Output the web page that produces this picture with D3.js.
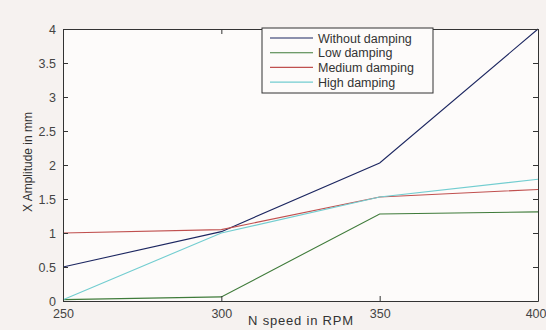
<!DOCTYPE html>
<html>
<meta charset="utf-8">
<head>
<style>
  body { margin: 0; background: #f6f2f0; }
  svg text { font-family: "Liberation Sans", Arial, sans-serif; fill: #333; }
</style>
</head>
<body>
<script src="https://d3js.org/d3.v7.min.js"></script>
<script>
var speeds = [250, 300, 350, 400];
var withoutDamping = [0.5, 1.02, 2.03, 4.0];
var lowDamping = [0.02, 0.06, 1.28, 1.31];
var mediumDamping = [1.0, 1.05, 1.53, 1.64];
var highDamping = [0.02, 1.0, 1.53, 1.79];
var seriesNames = ["Without damping", "Low damping", "Medium damping", "High damping"];
var xTicks = [250, 300, 350, 400];
var yTicks = [0, 0.5, 1, 1.5, 2, 2.5, 3, 3.5, 4];

var width = 546, height = 330;
var plotL = 63, plotR = 538, plotT = 29, plotB = 301;
var colors = ["#1c2660", "#3f7b3a", "#c0504f", "#72cdd0"];
var allSeries = [withoutDamping, lowDamping, mediumDamping, highDamping];

var svg = d3.select("body").append("svg")
  .attr("width", width).attr("height", height);

var x = d3.scaleLinear().domain([250, 400]).range([plotL, plotR]);
var y = d3.scaleLinear().domain([0, 4]).range([plotB, plotT]);

// plot area
svg.append("rect")
  .attr("x", plotL).attr("y", plotT)
  .attr("width", plotR - plotL).attr("height", plotB - plotT)
  .attr("fill", "#fdfbfa");

// lines
var line = d3.line()
  .x(function (d, i) { return x(speeds[i]); })
  .y(function (d) { return y(d); });

allSeries.forEach(function (s, k) {
  svg.append("path")
    .datum(s)
    .attr("fill", "none")
    .attr("stroke", colors[k])
    .attr("stroke-width", 1.1)
    .attr("d", line);
});

// axes, matlab style: ticks inside on all sides
function styleAxis(g) {
  g.select(".domain").attr("stroke", "#333");
  g.selectAll(".tick line").attr("stroke", "#333");
  g.selectAll("text").attr("font-size", 12.5).style("fill", "#444");
}
var fmt = function (d) { return String(d); };
var xb = svg.append("g")
  .attr("transform", "translate(0," + plotB + ")")
  .call(d3.axisBottom(x).tickValues(xTicks).tickFormat(fmt).tickSize(-5).tickPadding(8).tickSizeOuter(0))
  .call(styleAxis);
// last label sits at the page edge
xb.selectAll(".tick text").filter(function (d) { return d === 400; })
  .attr("text-anchor", "end").attr("x", 8);
svg.append("g")
  .attr("transform", "translate(0," + plotT + ")")
  .call(d3.axisTop(x).tickValues(xTicks).tickSize(-5).tickFormat("").tickSizeOuter(0))
  .call(styleAxis);
svg.append("g")
  .attr("transform", "translate(" + plotL + ",0)")
  .call(d3.axisLeft(y).tickValues(yTicks).tickFormat(fmt).tickSize(-5).tickPadding(7).tickSizeOuter(0))
  .call(styleAxis);
svg.append("g")
  .attr("transform", "translate(" + plotR + ",0)")
  .call(d3.axisRight(y).tickValues(yTicks).tickSize(-5).tickFormat("").tickSizeOuter(0))
  .call(styleAxis);

// axis titles
svg.append("text")
  .attr("x", 301).attr("y", 325)
  .attr("text-anchor", "middle")
  .attr("font-size", 13)
  .attr("letter-spacing", 0.8)
  .text("N speed in RPM");
svg.append("text")
  .attr("transform", "translate(32,162) rotate(-90)")
  .attr("text-anchor", "middle")
  .attr("font-size", 12)
  .text("X Amplitude in mm");

// legend
var lg = svg.append("g").attr("transform", "translate(262,28)");
lg.append("rect")
  .attr("width", 171).attr("height", 65)
  .attr("fill", "#fdfbfa").attr("stroke", "#333");
seriesNames.forEach(function (name, k) {
  var ly = 10 + k * 14.7;
  lg.append("line")
    .attr("x1", 8).attr("x2", 51).attr("y1", ly).attr("y2", ly)
    .attr("stroke", colors[k]).attr("stroke-width", 1.1);
  lg.append("text")
    .attr("x", 56).attr("y", ly + 4.5)
    .attr("font-size", 12.5)
    .text(name);
});
</script>
</body>
</html>
